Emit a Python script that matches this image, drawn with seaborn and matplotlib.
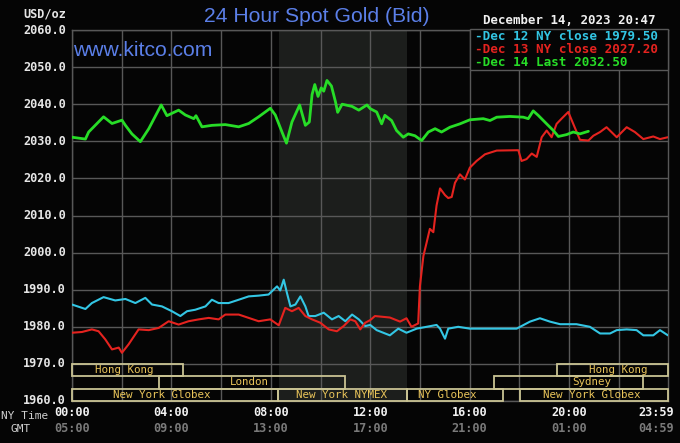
import numpy as np
import pandas as pd
import matplotlib
matplotlib.use("Agg")
import matplotlib.pyplot as plt
from matplotlib.patches import Rectangle
import seaborn as sns

# ---------------- data ----------------
dec12_hours = [0.0, 0.54, 0.80, 1.27, 1.74, 2.15, 2.55, 2.95, 3.22, 3.62, 4.02, 4.36, 4.63, 4.96,
               5.37, 5.63, 5.90, 6.30, 6.71, 7.11, 7.51, 7.91, 8.25, 8.38, 8.52, 8.65, 8.79, 8.99,
               9.19, 9.39, 9.52, 9.79, 10.13, 10.46, 10.73, 11.0, 11.27, 11.54, 11.80, 12.0,
               12.26, 12.79, 13.13, 13.46, 13.87, 14.27, 14.67, 14.81, 15.01, 15.14, 15.54, 16.01,
               16.68, 17.89, 18.43, 18.83, 19.23, 19.64, 20.30, 20.84, 21.25, 21.65, 21.92, 22.32,
               22.72, 22.99, 23.39, 23.66, 23.98]
dec12_prices = [1986.0, 1984.8, 1986.4, 1988.0, 1987.1, 1987.5, 1986.4, 1987.8, 1986.0, 1985.5,
                1984.2, 1982.9, 1984.2, 1984.6, 1985.5, 1987.3, 1986.4, 1986.4, 1987.3, 1988.2,
                1988.4, 1988.7, 1990.9, 1989.8, 1992.7, 1989.1, 1985.5, 1986.0, 1988.2, 1985.5,
                1982.9, 1982.9, 1983.8, 1982.0, 1982.9, 1981.5, 1983.3, 1982.0, 1980.2, 1980.5,
                1979.1, 1977.7, 1979.5, 1978.4, 1979.5, 1980.0, 1980.5, 1979.5, 1976.8, 1979.5,
                1980.0, 1979.5, 1979.5, 1979.5, 1981.4, 1982.3, 1981.4, 1980.7, 1980.7, 1980.0,
                1978.2, 1978.2, 1979.1, 1979.3, 1979.1, 1977.7, 1977.7, 1979.1, 1977.7]

dec13_hours = [0.0, 0.40, 0.80, 1.07, 1.34, 1.61, 1.88, 2.01, 2.28, 2.68, 3.09, 3.49, 3.89, 4.29,
               4.69, 5.10, 5.50, 5.90, 6.17, 6.71, 7.11, 7.51, 7.98, 8.32, 8.58, 8.85, 9.12, 9.39,
               9.66, 9.99, 10.33, 10.66, 10.93, 11.20, 11.40, 11.60, 11.80, 12.0, 12.19, 12.79,
               13.20, 13.46, 13.66, 13.93, 14.0, 14.14, 14.27, 14.40, 14.54, 14.67, 14.81, 15.01,
               15.14, 15.28, 15.41, 15.61, 15.81, 16.01, 16.28, 16.62, 17.09, 17.96, 18.09, 18.29,
               18.50, 18.70, 18.90, 19.10, 19.30, 19.50, 19.70, 19.97, 20.17, 20.44, 20.78, 20.98,
               21.25, 21.51, 21.92, 22.32, 22.65, 22.99, 23.39, 23.66, 23.98]
dec13_prices = [1978.4, 1978.6, 1979.3, 1978.8, 1976.6, 1973.9, 1974.4, 1973.0, 1975.3, 1979.3,
                1979.1, 1979.7, 1981.5, 1980.6, 1981.5, 1982.0, 1982.4, 1982.0, 1983.3, 1983.3,
                1982.4, 1981.5, 1982.0, 1980.4, 1985.1, 1984.2, 1985.1, 1982.9, 1982.0, 1981.1,
                1979.3, 1978.8, 1980.2, 1982.0, 1981.5, 1979.3, 1981.1, 1981.8, 1982.9, 1982.5,
                1981.4, 1982.3, 1980.0, 1980.9, 1990.9, 1999.1, 2002.7, 2006.4, 2005.5, 2012.7,
                2017.3, 2015.5, 2014.7, 2015.0, 2018.8, 2021.1, 2019.7, 2022.9, 2024.7, 2026.5,
                2027.5, 2027.6, 2024.7, 2025.2, 2026.7, 2025.8, 2031.1, 2032.9, 2031.1, 2034.7,
                2036.1, 2037.9, 2034.7, 2030.4, 2030.2, 2031.5, 2032.5, 2033.8, 2031.1, 2033.8,
                2032.5, 2030.6, 2031.3, 2030.6, 2031.1]

dec14_hours = [0.0, 0.54, 0.67, 1.27, 1.61, 2.01, 2.15, 2.41, 2.75, 3.09, 3.59, 3.82, 4.29, 4.56,
               4.90, 4.99, 5.23, 5.63, 6.17, 6.71, 7.11, 7.51, 7.98, 8.18, 8.45, 8.63, 8.85, 9.16,
               9.39, 9.55, 9.66, 9.77, 9.90, 10.03, 10.13, 10.26, 10.44, 10.60, 10.69, 10.87,
               11.27, 11.54, 11.87, 12.0, 12.26, 12.46, 12.59, 12.86, 13.06, 13.33, 13.53, 13.80,
               14.07, 14.34, 14.61, 14.87, 15.21, 15.61, 16.01, 16.55, 16.82, 17.09, 17.62, 18.16,
               18.36, 18.56, 18.76, 19.10, 19.37, 19.57, 19.90, 20.17, 20.44, 20.78]
dec14_prices = [2031.1, 2030.6, 2032.5, 2036.6, 2034.8, 2035.7, 2034.3, 2032.0, 2029.9, 2033.4,
                2039.8, 2036.9, 2038.4, 2037.1, 2036.1, 2036.9, 2033.9, 2034.3, 2034.5, 2033.9,
                2034.8, 2036.6, 2038.9, 2037.1, 2032.5, 2029.5, 2035.2, 2039.8, 2034.3, 2035.2,
                2042.6, 2045.3, 2042.1, 2044.4, 2043.5, 2046.4, 2044.9, 2040.7, 2037.8, 2040.0,
                2039.4, 2038.4, 2039.8, 2038.8, 2037.9, 2034.7, 2037.0, 2035.6, 2032.9, 2031.1,
                2032.0, 2031.5, 2030.2, 2032.5, 2033.4, 2032.5, 2033.8, 2034.7, 2035.8, 2036.1,
                2035.6, 2036.5, 2036.7, 2036.5, 2036.1, 2038.2, 2037.0, 2034.7, 2032.9, 2031.3,
                2031.8, 2032.5, 2032.0, 2032.7]

series_names = ["Dec 12", "Dec 13", "Dec 14"]
legend_labels = ["Dec 12 NY close 1979.50", "Dec 13 NY close 2027.20", "Dec 14 Last 2032.50"]
series_colors = ["#33c6e4", "#e5231f", "#27dd27"]

y_ticks = [1960, 1970, 1980, 1990, 2000, 2010, 2020, 2030, 2040, 2050, 2060]
x_tick_hours = [0, 4, 8, 12, 16, 20, 23.983]
ny_labels = ["00:00", "04:00", "08:00", "12:00", "16:00", "20:00", "23:59"]
gmt_labels = ["05:00", "09:00", "13:00", "17:00", "21:00", "01:00", "04:59"]

# sessions: (row, start, end, label, text centre)
session_rows = [0, 0, 1, 1, 2, 2, 2, 2]
session_starts = [0.0, 19.53, 3.5, 16.99, 0.0, 8.29, 13.47, 18.03]
session_ends = [4.47, 23.983, 11.0, 22.97, 8.29, 13.47, 17.36, 23.983]
session_labels = ["Hong Kong", "Hong Kong", "London", "Sydney",
                  "New York Globex", "New York NYMEX", "NY Globex", "New York Globex"]
session_text_x = [2.1, 22.0, 7.12, 20.9, 3.6, 10.85, 15.1, 20.9]

# ---------------- figure ----------------
sns.set_theme(style="dark")
plt.rcParams["font.family"] = ["DejaVu Sans"]

BG = "#050505"
GRID = "#585858"
fig = plt.figure(figsize=(6.8, 4.43), dpi=100, facecolor=BG)
ax = fig.add_axes([72 / 680, 1 - 401 / 443, (668 - 72) / 680, (401 - 30) / 443])
ax.set_facecolor(BG)

xmax = 23.983
ax.set_xlim(0, xmax)
ax.set_ylim(1960, 2060)

# shaded COMEX session
ax.axvspan(8.333, 13.5, color="#1c1e1c", zorder=0, lw=0)

# grid
for h in range(0, 24, 2):
    ax.axvline(h, color=GRID, lw=1.0, zorder=1)
for v in y_ticks:
    ax.axhline(v, color=GRID, lw=1.0, zorder=1)
for s in ax.spines.values():
    s.set_color(GRID)
    s.set_linewidth(1.0)

# data
frames = []
for name, hrs, prs in zip(series_names, [dec12_hours, dec13_hours, dec14_hours],
                          [dec12_prices, dec13_prices, dec14_prices]):
    frames.append(pd.DataFrame({"hour": hrs, "price": prs, "day": name}))
df = pd.concat(frames, ignore_index=True)

for name, col, lw in zip(series_names, series_colors, [1.5, 1.5, 2.0]):
    sns.lineplot(data=df[df["day"] == name], x="hour", y="price", color=col, lw=lw,
                 ax=ax, zorder=3, legend=False, estimator=None, sort=False)

# session boxes
row_h = 10 / 3
for r, s0, s1, lab, tx in zip(session_rows, session_starts, session_ends,
                               session_labels, session_text_x):
    y0 = 1970 - (r + 1) * row_h
    ax.add_patch(Rectangle((s0, y0), s1 - s0, row_h, fill=False, ec="#c9c393",
                           lw=1.3, zorder=4, clip_on=False))
    ax.text(tx, y0 + row_h / 2, lab, color="#e9c45a", fontsize=7.8,
            family="DejaVu Sans Mono", ha="center", va="center", zorder=5)

# axis labels / ticks
ax.set_xticks([])
ax.set_yticks([])
ax.set_xlabel("")
ax.set_ylabel("")
for v in y_ticks:
    ax.text(-6 / 24.85, v, f"{v:.1f}", transform=ax.transData, ha="right", va="center",
            color="#e6e6e6", fontsize=8.6, family="DejaVu Sans Mono", fontweight="bold",
            clip_on=False)

xt = ax.get_xaxis_transform()
for h, a, b in zip(x_tick_hours, ny_labels, gmt_labels):
    ha = "center"
    x = h
    if h > 23:
        ha = "right"
        x = (674 - 72) / 24.85
    ax.text(x, -12 / 371, a, transform=xt, ha=ha, va="center", color="#f2f2f2",
            fontsize=8.6, family="DejaVu Sans Mono", fontweight="bold", clip_on=False)
    ax.text(x, -28 / 371, b, transform=xt, ha=ha, va="center", color="#7a7a7a",
            fontsize=8.6, family="DejaVu Sans Mono", fontweight="bold", clip_on=False)

fig.text(25 / 680, 1 - 416 / 443, "NY Time", ha="center", va="center", color="#cfcfcf",
         fontsize=8, family="DejaVu Sans Mono")
fig.text(21 / 680, 1 - 429 / 443, "GMT", ha="center", va="center", color="#cfcfcf",
         fontsize=8, family="DejaVu Sans Mono")
fig.text(66 / 680, 1 - 14 / 443, "USD/oz", ha="right", va="center", color="#e6e6e6",
         fontsize=8.6, family="DejaVu Sans Mono", fontweight="bold")

# title & site
fig.text(317 / 680, 1 - 17 / 443, "24 Hour Spot Gold (Bid)", ha="center", va="center",
         color="#5b7fe8", fontsize=15.2, family="Liberation Sans")
fig.text(73 / 680, 1 - 51 / 443, "www.kitco.com", ha="left", va="center",
         color="#5b7fe8", fontsize=15.2, family="Liberation Sans")
fig.text(569 / 680, 1 - 21 / 443, "December 14, 2023 20:47", ha="center", va="center",
         color="#f0f0f0", fontsize=8.9, family="DejaVu Sans Mono", fontweight="bold")

# legend box
fig.patches.append(Rectangle((470 / 680, 1 - 70 / 443), 198 / 680, 41 / 443,
                             transform=fig.transFigure, fc=BG, ec=GRID, lw=1.0, zorder=6))
for i, (lab, col) in enumerate(zip(legend_labels, series_colors)):
    fig.text(475 / 680, 1 - (36 + 13.5 * i) / 443, "-" + lab, ha="left", va="center",
             color=col, fontsize=9.1, family="DejaVu Sans Mono", fontweight="bold", zorder=7)

fig.savefig("out.png", dpi=100, facecolor=BG)
